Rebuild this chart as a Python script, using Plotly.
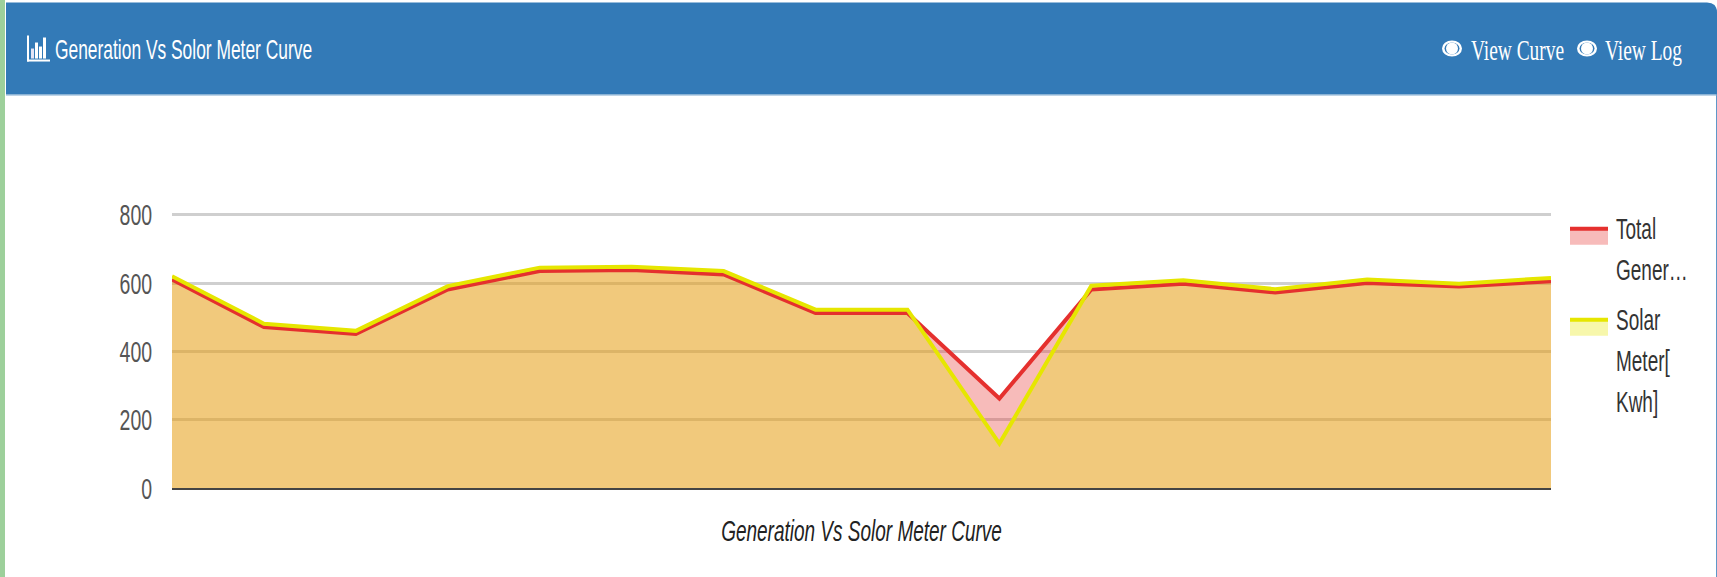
import plotly.graph_objects as go

points = list(range(1, 17))
total_generation = [610, 471, 451, 581, 635, 638, 625, 512, 512, 262, 581, 598, 572, 600, 590, 605]
solar_meter = [620, 481, 460, 591, 645, 648, 635, 522, 522, 130, 592, 608, 582, 610, 598, 615]
y_ticks = [0, 200, 400, 600, 800]

W, H = 1717, 577
L, R, T, B = 172, 1551, 213.3, 488
BLUE = "#337ab7"
RED = "#e5302e"
YEL = "#e6e600"
RED_FILL = "rgba(230,48,46,0.33)"
YEL_FILL = "rgba(230,230,0,0.33)"
SANS = "Liberation Sans, Arial, sans-serif"
SERIF = "Liberation Serif, serif"

def px(x):
    return (x - L) / (R - L)

def py(y):
    return (B - y) / (B - T)

def rect(x0, y0, x1, y1, color):
    return dict(type="rect", xref="paper", yref="paper", x0=px(x0), x1=px(x1), y0=py(y0), y1=py(y1),
                fillcolor=color, line=dict(width=0), layer="above")

def ellipse(cx, cy, rx, ry, color):
    return dict(type="circle", xref="paper", yref="paper", x0=px(cx - rx), x1=px(cx + rx),
                y0=py(cy - ry), y1=py(cy + ry), fillcolor=color, line=dict(width=0), layer="above")

def label(x, y, text, font, size, color, anchor="left"):
    return dict(xref="paper", yref="paper", x=px(x), y=py(y), text=text, showarrow=False,
                xanchor=anchor, yanchor="middle", align=anchor,
                font=dict(family=font, size=size, color=color))

fig = go.Figure()
# Fills first, then the lines, so neither line is tinted by the other series' fill.
for name, values, fill in (("Total Generation", total_generation, RED_FILL),
                           ("Solar Meter[Kwh]", solar_meter, YEL_FILL)):
    fig.add_trace(go.Scatter(x=points, y=values, name=name, mode="lines", fill="tozeroy", fillcolor=fill,
                             line=dict(width=0), hoverinfo="skip", showlegend=False))
for name, values, color in (("Total Generation", total_generation, RED),
                            ("Solar Meter[Kwh]", solar_meter, YEL)):
    fig.add_trace(go.Scatter(x=points, y=values, name=name, mode="lines",
                             line=dict(color=color, width=4), showlegend=False))

shapes = [
    rect(0, 0, 5, H, "#9dd09b"),
    rect(1716, 10, 1717, H, "#5f97c8"),
    dict(type="path", xref="paper", yref="paper", layer="above", line=dict(width=0), fillcolor=BLUE,
         path=f"M {px(6)} {py(3)} L {px(1707)} {py(3)} Q {px(1717)} {py(3)} {px(1717)} {py(13)} "
              f"L {px(1717)} {py(95)} L {px(6)} {py(95)} Z"),
    rect(6, 95, 1717, 96, "#7fa9d0"),
    # header bar-chart icon
    rect(27, 36, 29, 62, "white"), rect(27, 60, 50, 62, "white"),
    rect(31, 49, 34, 59, "#e4e4f5"), rect(35, 43, 38, 59, "white"),
    rect(39, 47, 42, 59, "white"), rect(43, 38, 46, 59, "white"),
]
for cx in (1452, 1587):
    shapes += [ellipse(cx, 49, 10, 8, "white"), ellipse(cx, 49, 7.5, 6, BLUE), ellipse(cx, 49, 6, 6, "white")]

# legend swatches
shapes += [
    rect(1570, 229, 1608, 245, RED_FILL), rect(1570, 227, 1608, 231, RED),
    rect(1570, 320, 1608, 336, YEL_FILL), rect(1570, 318, 1608, 322, YEL),
]

annotations = [
    label(53, 50, "Generation Vs Solor Meter Curve", SANS, 17.4, "white"),
    label(1469, 50, "View Curve", SERIF, 19.4, "white"),
    label(1603, 50, "View Log", SERIF, 19.4, "white"),
    label(1614, 229, "Total", SANS, 19, "#333333"),
    label(1614, 270, "Gener…", SANS, 19, "#333333"),
    label(1614, 320, "Solar", SANS, 19, "#333333"),
    label(1614, 361, "Meter[", SANS, 19, "#333333"),
    label(1614, 402, "Kwh]", SANS, 19, "#333333"),
]

fig.update_layout(
    width=W, height=H, margin=dict(l=L, r=W - R, t=T, b=H - B),
    paper_bgcolor="white", plot_bgcolor="white",
    shapes=shapes, annotations=annotations,
    xaxis=dict(range=[points[0], points[-1]], showgrid=False, showticklabels=False, ticks="",
               zeroline=False, showline=True, linecolor="#444444", linewidth=2,
               title=dict(text="<i>Generation Vs Solor Meter Curve</i>", standoff=35,
                          font=dict(family=SANS, size=19, color="#222222"))),
    yaxis=dict(range=[0, 805], tickvals=y_ticks, showgrid=True, gridcolor="#cfcfcf", gridwidth=2.5,
               zeroline=False, ticks="outside", ticklen=15, tickcolor="rgba(0,0,0,0)",
               tickfont=dict(family=SANS, size=19.5, color="#555555")),
)

# The reference text is tall and narrow; no narrow face is installed, so stretch the real text vertically.
stretch_text = """
document.body.style.margin='0';document.body.style.overflow='hidden';
document.querySelectorAll('.main-svg text').forEach(function(t){
  var b=t.getBBox(); var cy=b.y+b.height/2; var prev=t.getAttribute('transform')||'';
  t.setAttribute('transform', prev+' translate(0,'+cy+') scale(1,1.55) translate(0,'+(-cy)+')');
});
"""
fig.write_html("out.html", config=dict(displayModeBar=False), post_script=stretch_text)
